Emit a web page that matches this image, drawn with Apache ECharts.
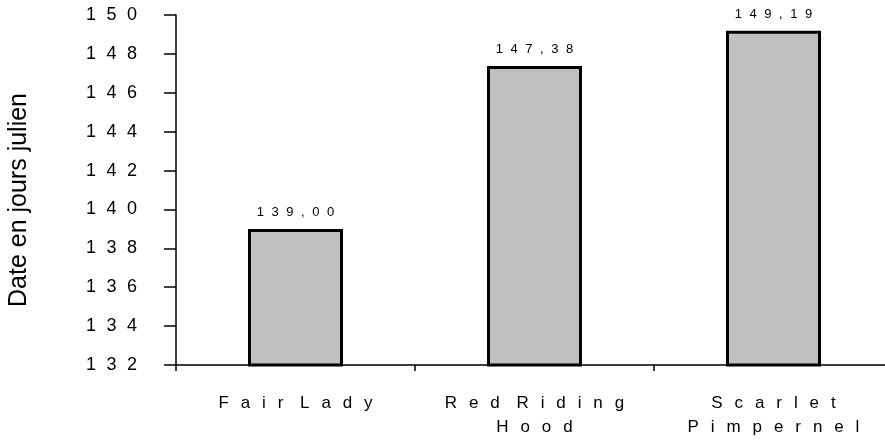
<!DOCTYPE html>
<html>
<head>
<meta charset="utf-8">
<script src="https://cdn.jsdelivr.net/npm/echarts@6/dist/echarts.min.js"></script>
<style>
html,body{margin:0;padding:0;background:#fff;}
#chart{width:885px;height:443px;}
</style>
</head>
<body>
<div id="chart"></div>
<script>
const categories = ['Fair Lady', 'Red Riding\nHood', 'Scarlet\nPimpernel'];
const values = [139.00, 147.38, 149.19];
const yMin = 132, yMax = 150, yStep = 2;
const yAxisTitle = 'Date en jours julien';

const FONT = '"Liberation Sans", Arial, sans-serif';
const GAP = '\u2002\u200A';
function spaced(s, gap) {
  return s.split('\n').map(line =>
    line.split(' ').map(w => w.split('').join(gap)).join(gap + ' ')
  ).join('\n');
}

const chart = echarts.init(document.getElementById('chart'));
chart.setOption({
  animation: false,
  backgroundColor: '#ffffff',
  textStyle: { fontFamily: FONT, color: '#000' },
  grid: { left: 176, width: 717, top: 15, bottom: 78, containLabel: false, outerBoundsMode: 'none' },
  xAxis: {
    type: 'category',
    data: categories,
    axisLine: { lineStyle: { color: '#000', width: 1.5 } },
    axisTick: { show: true, length: 6, lineStyle: { color: '#000', width: 1.5 } },
    axisLabel: {
      color: '#000', fontSize: 17, margin: 26, lineHeight: 24,
      fontFamily: FONT,
      formatter: v => spaced(v, '\u2002\u2009')
    }
  },
  yAxis: {
    type: 'value',
    min: yMin, max: yMax, interval: yStep,
    name: yAxisTitle,
    nameLocation: 'middle',
    nameRotate: 90,
    nameGap: 144,
    nameTextStyle: { color: '#000', fontSize: 25, fontFamily: FONT, padding: [0, 20, 0, 0] },
    splitLine: { show: false },
    axisLine: { show: true, lineStyle: { color: '#000', width: 1.5 } },
    axisTick: { show: true, length: 12, lineStyle: { color: '#000', width: 1.5 } },
    axisLabel: {
      color: '#000', fontSize: 18, margin: 39,
      fontFamily: FONT,
      formatter: v => spaced(String(v), GAP)
    }
  },
  series: [{
    type: 'bar',
    data: values,
    barWidth: 95,
    itemStyle: { color: '#c0c0c0', borderColor: '#000', borderWidth: 3 },
    label: {
      show: true, position: 'top', distance: 10,
      color: '#000', fontSize: 13,
      fontFamily: FONT,
      formatter: p => spaced(p.value.toFixed(2).replace('.', ','), GAP)
    }
  }]
});
</script>
</body>
</html>
